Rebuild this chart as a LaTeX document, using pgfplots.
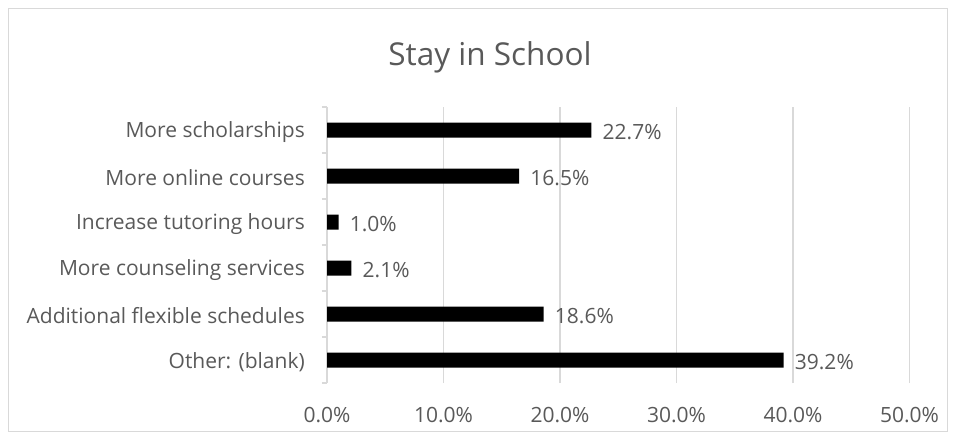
\documentclass[border=0pt]{standalone}
\usepackage{pgfplots}
\pgfplotsset{compat=1.18}
\usepackage{fontspec}
\setmainfont{Open Sans}
\definecolor{txt}{HTML}{595959}
\definecolor{grd}{HTML}{D9D9D9}
\begin{document}
\begin{tikzpicture}
% coordinates: pixels from the left, y = 440 - pixels from the top
\path[use as bounding box] (0pt,0pt) rectangle (956pt,440pt);
\draw[grd, line width=1.5pt] (8.5pt,8.5pt) rectangle (947.5pt,431.5pt);
\node[txt, font=\fontsize{31.5}{36}\selectfont] at (490pt,383pt) {Stay in School};
\begin{axis}[
    at={(327pt,57pt)}, anchor=south west,
    scale only axis,
    width=582.5pt, height=276pt,
    xbar, bar width=15pt,
    xmin=0, xmax=50,
    ymin=-0.5, ymax=5.5,
    xtick={0,10,...,50},
    xticklabel={\pgfmathprintnumber[fixed,fixed zerofill,precision=1]{\tick}\%},
    ytick={0,...,5},
    yticklabels={Other: (blank),Additional flexible schedules,More counseling services,Increase tutoring hours,More online courses,More scholarships},
    minor ytick={-0.5,0.5,...,5.5},
    major tick length=0pt, minor tick length=5pt,
    tick align=outside,
    minor tick style={grd, line width=1.5pt},
    axis lines*=left,
    x axis line style={draw=none},
    y axis line style={grd, line width=1.5pt, -},
    xmajorgrids, major grid style={grd, line width=1.5pt},
    tick label style={txt, font=\fontsize{21}{25}\selectfont, inner sep=0pt},
    xticklabel style={anchor=center, yshift=-32pt},
    yticklabel style={anchor=east, xshift=-22pt, yshift=-2pt},
    /pgf/number format/assume math mode=true,
    nodes near coords={\pgfmathprintnumber[fixed,fixed zerofill,precision=1]{\pgfplotspointmeta}\%},
    every node near coord/.append style={txt, font=\fontsize{21}{25}\selectfont, anchor=west, inner sep=0pt, xshift=11pt, yshift=-2pt},
    clip=false,
]
\addplot[fill=black, draw=none] coordinates {(39.2,0) (18.6,1) (2.1,2) (1.0,3) (16.5,4) (22.7,5)};
\end{axis}
\end{tikzpicture}
\end{document}
